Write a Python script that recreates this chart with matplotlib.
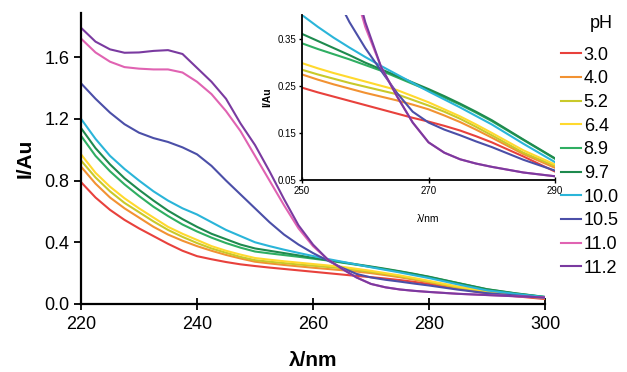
import matplotlib
matplotlib.use('Agg')
import matplotlib.pyplot as plt

plt.rcParams['font.family'] = ['Liberation Sans', 'DejaVu Sans']

# wavelength grid (nm)
wl = [220, 222.5, 225, 227.5, 230, 232.5, 235, 237.5, 240, 242.5, 245, 247.5,
      250, 252.5, 255, 257.5, 260, 262.5, 265, 267.5, 270, 272.5, 275, 277.5,
      280, 285, 290, 295, 300]

ph30 = [0.79, 0.69, 0.61, 0.545, 0.49, 0.44, 0.39, 0.345, 0.31, 0.29, 0.272, 0.257,
        0.246, 0.236, 0.227, 0.218, 0.209, 0.2, 0.191, 0.182, 0.174, 0.165, 0.155, 0.143,
        0.13, 0.1, 0.068, 0.05, 0.032]
ph40 = [0.89, 0.78, 0.69, 0.62, 0.56, 0.5, 0.45, 0.41, 0.375, 0.345, 0.318, 0.295,
        0.274, 0.263, 0.253, 0.244, 0.235, 0.227, 0.219, 0.21, 0.2, 0.187, 0.173, 0.157,
        0.14, 0.105, 0.076, 0.055, 0.036]
ph52 = [0.93, 0.82, 0.73, 0.655, 0.595, 0.535, 0.48, 0.435, 0.395, 0.36, 0.332, 0.305,
        0.284, 0.274, 0.265, 0.256, 0.248, 0.24, 0.232, 0.22, 0.208, 0.195, 0.18, 0.163,
        0.145, 0.108, 0.08, 0.058, 0.038]
ph64 = [0.97, 0.85, 0.76, 0.685, 0.62, 0.56, 0.5, 0.455, 0.415, 0.375, 0.345, 0.32,
        0.298, 0.287, 0.277, 0.268, 0.259, 0.25, 0.241, 0.228, 0.215, 0.2, 0.185, 0.168,
        0.15, 0.113, 0.083, 0.06, 0.04]
ph89 = [1.09, 0.96, 0.86, 0.775, 0.7, 0.63, 0.57, 0.515, 0.47, 0.43, 0.395, 0.365,
        0.34, 0.328, 0.317, 0.306, 0.294, 0.282, 0.268, 0.254, 0.24, 0.225, 0.21, 0.193,
        0.175, 0.135, 0.095, 0.068, 0.045]
ph97 = [1.14, 1.01, 0.905, 0.815, 0.74, 0.67, 0.605, 0.55, 0.5, 0.455, 0.42, 0.385,
        0.36, 0.345, 0.33, 0.315, 0.299, 0.285, 0.271, 0.257, 0.243, 0.228, 0.212, 0.195,
        0.177, 0.136, 0.096, 0.069, 0.046]
ph100 = [1.2, 1.07, 0.96, 0.875, 0.8, 0.73, 0.67, 0.62, 0.58, 0.53, 0.48, 0.44,
         0.4, 0.375, 0.352, 0.331, 0.311, 0.292, 0.274, 0.256, 0.238, 0.221, 0.204, 0.186,
         0.168, 0.127, 0.088, 0.065, 0.045]
ph105 = [1.43, 1.33, 1.24, 1.165, 1.11, 1.075, 1.05, 1.015, 0.97, 0.895, 0.8, 0.71,
         0.62, 0.53, 0.45, 0.385, 0.33, 0.282, 0.235, 0.195, 0.172, 0.157, 0.145, 0.132,
         0.12, 0.093, 0.07, 0.055, 0.04]
ph110 = [1.72, 1.63, 1.57, 1.535, 1.525, 1.52, 1.52, 1.5, 1.44, 1.36, 1.25, 1.12,
         0.96, 0.8, 0.64, 0.49, 0.375, 0.29, 0.228, 0.172, 0.13, 0.108, 0.094, 0.085,
         0.078, 0.066, 0.058, 0.05, 0.042]
ph112 = [1.79, 1.7, 1.65, 1.628, 1.63, 1.64, 1.645, 1.62, 1.53, 1.44, 1.33, 1.17,
         1.03, 0.86, 0.68, 0.51, 0.385, 0.29, 0.228, 0.172, 0.13, 0.108, 0.094, 0.085,
         0.078, 0.066, 0.058, 0.05, 0.042]

labels = ['3.0', '4.0', '5.2', '6.4', '8.9', '9.7', '10.0', '10.5', '11.0', '11.2']
series = [ph30, ph40, ph52, ph64, ph89, ph97, ph100, ph105, ph110, ph112]
colors = ['#e8413c', '#f29232', '#c9c92a', '#ffd92e', '#2fae62', '#1e8a4e',
          '#2ab5d9', '#4b4fa8', '#e063b2', '#7a3aa0']

fig = plt.figure(figsize=(6.27, 3.72), dpi=100)

# main plot
ax = fig.add_axes([0.1292, 0.1828, 0.74, 0.782])
for y, c, lab in zip(series, colors, labels):
    ax.plot(wl, y, color=c, lw=1.5, label=lab)
ax.set_xlim(220, 300)
ax.set_ylim(0, 1.885)
ax.set_xticks([220, 240, 260, 280, 300])
ax.set_yticks([0.0, 0.4, 0.8, 1.2, 1.6])
ax.set_yticklabels(['0.0', '0.4', '0.8', '1.2', '1.6'])
ax.spines['top'].set_visible(False)
ax.spines['right'].set_visible(False)
ax.spines['left'].set_linewidth(1.6)
ax.spines['bottom'].set_linewidth(1.6)
ax.tick_params(axis='x', direction='inout', length=9, width=1.3, labelsize=13, pad=4)
ax.tick_params(axis='y', direction='out', length=5, width=1.3, labelsize=13)
ax.set_xlabel('λ/nm', fontsize=15, fontweight='bold', labelpad=13)
ax.set_ylabel('I/Au', fontsize=15, fontweight='bold', labelpad=7)

# inset
ins = fig.add_axes([0.4817, 0.516, 0.4035, 0.4435])
ins.patch.set_alpha(0)
for y, c in zip(series, colors):
    ins.plot(wl, y, color=c, lw=1.5)
ins.set_xlim(250, 290)
ins.set_ylim(0.05, 0.40)
ins.set_xticks([250, 270, 290])
ins.set_yticks([0.05, 0.15, 0.25, 0.35])
ins.set_yticklabels(['0.05', '0.15', '0.25', '0.35'])
ins.spines['top'].set_visible(False)
ins.spines['right'].set_visible(False)
ins.spines['left'].set_linewidth(1.3)
ins.spines['bottom'].set_linewidth(1.3)
ins.tick_params(axis='x', direction='inout', length=4, width=1, labelsize=7, pad=2)
ins.tick_params(axis='y', direction='out', length=2.5, width=1, labelsize=7, pad=1.5)
ins.set_xlabel('λ/nm', fontsize=7.5, labelpad=13)
ins.set_ylabel('I/Au', fontsize=7.5, fontweight='bold', labelpad=4)

# legend
handles, labs = ax.get_legend_handles_labels()
fig.legend(handles, labs, loc='upper left', bbox_to_anchor=(0.895, 0.875),
           frameon=False, fontsize=13, handlelength=1.1, handletextpad=0.15,
           labelspacing=0.37, borderaxespad=0, borderpad=0)
fig.text(0.941, 0.938, 'pH', fontsize=13, ha='left', va='center')

fig.savefig('out.png', dpi=100)
